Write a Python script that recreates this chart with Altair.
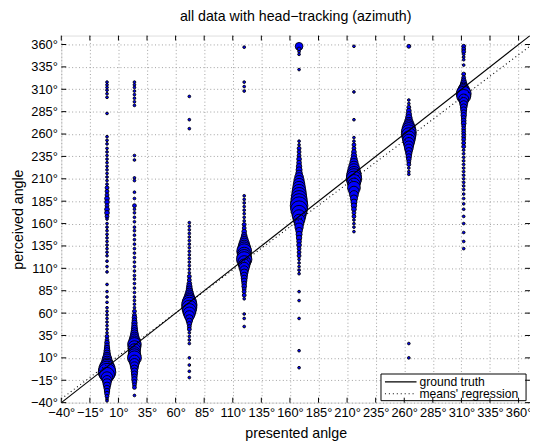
import altair as alt
import pandas as pd

# ---------------- data ----------------
presented = [0, 24, 72, 120, 168, 216, 264, 312]

# (perceived angle, number of responses)
resp_0 = [(318,1),(315,1),(312,1),(309,1),(305,1),(301,1),(283,1),
          (257,1),(253,1),(249,1),(244,1),(240,1),(236,1),(232,1),(228,1),(224,1),(220,1),(216,1),
          (212,1),(208,1),(204,1),(200,2),(196,2),(192,2),(188,3),(184,3),(180,2),(176,3),(172,3),
          (168,2),(165,1),(160,1),(156,1),(152,1),(148,1),(144,1),(140,1),(136,1),(132,1),(128,1),
          (124,1),(118,1),(112,1),(106,1),(92,1),(84,1),(78,1),(72,1),(66,1),(62,1),(58,1),(54,1),
          (50,1),(46,1),(42,1),(38,1),(34,2),(30,2),(27,3),(24,3),(21,4),(18,5),(15,6),(12,8),
          (9,12),(6,15),(3,20),(0,30),(-3,38),(-6,42),(-9,30),(-12,18),(-15,12),(-18,9),(-21,7),
          (-24,5),(-27,4),(-30,3),(-33,2),(-36,1),(-38,1)]
resp_24 = [(318,1),(315,1),(312,1),(308,1),(304,1),(300,1),(296,1),(292,1),
           (236,1),(231,1),(211,1),(208,1),(195,1),(188,1),(180,2),(176,1),(172,1),(167,1),
           (162,1),(156,1),(152,1),(147,1),(142,1),(137,1),(132,1),(127,1),(122,1),(117,1),
           (112,1),(107,1),(102,1),(98,1),(93,1),(88,1),(83,1),(78,1),(74,1),(70,1),(66,1),
           (62,2),(58,2),(55,3),(52,3),(49,4),(46,4),(43,5),(40,6),(37,8),(34,10),(31,14),
           (28,18),(25,25),(22,22),(19,20),(16,18),(13,22),(10,26),(7,16),(4,12),(1,9),(-2,7),
           (-5,6),(-8,5),(-11,4),(-14,4),(-17,3),(-20,2),(-23,2),(-32,1)]
resp_72 = [(302,1),(276,1),(266,1),
           (161,1),(157,1),(153,1),(149,1),(145,1),(141,1),(137,1),(133,1),(129,1),(125,1),
           (121,1),(117,1),(113,1),(109,1),(105,1),(101,2),(97,2),(93,3),(90,4),(87,5),(84,7),
           (81,10),(78,14),(75,20),(72,28),(69,32),(66,30),(63,25),(60,20),(57,14),(54,8),
           (51,5),(48,3),(45,2),(42,2),(38,1),(34,1),(30,1),(26,1),(10,1),(2,1),(-5,1),(-12,1)]
resp_120 = [(357,1),(318,1),(313,1),(308,1),
            (191,1),(187,1),(183,1),(179,1),(175,1),(171,1),(167,1),(163,1),(159,2),(155,2),
            (151,3),(147,4),(144,6),(141,9),(138,14),(135,18),(132,24),(129,30),(126,25),
            (123,28),(120,32),(117,22),(114,18),(111,14),(108,10),(105,8),(102,6),(99,5),
            (96,4),(93,3),(90,3),(87,2),(84,2),(80,2),(76,1),(59,1),(54,1),(45,1)]
resp_168 = [(358,8),(355,2),(352,1),(349,1),(332,1),
            (252,1),(248,1),(244,2),(240,2),(236,2),(232,3),(228,3),(224,4),(220,5),(216,6),
            (212,10),(208,14),(204,18),(200,22),(196,26),(192,30),(188,34),(184,38),(180,42),
            (176,38),(172,30),(168,24),(164,18),(160,12),(156,9),(152,6),(148,5),(144,4),
            (140,3),(136,3),(132,2),(128,2),(124,2),(120,1),(116,1),(112,1),(108,1),(104,1),
            (84,1),(74,1),(54,1),(18,1),(-1,1)]
resp_216 = [(358,1),(307,1),(276,1),
            (256,1),(252,1),(248,2),(244,2),(240,3),(236,4),(232,6),(228,9),(224,14),(220,20),
            (216,26),(213,30),(210,32),(207,26),(204,20),(200,22),(196,14),(192,10),(188,7),
            (184,5),(180,4),(176,3),(172,2),(168,2),(164,1),(160,1),(156,1),(151,1)]
resp_264 = [(358,2),
            (298,1),(294,1),(290,2),(286,3),(282,4),(278,6),(274,9),(271,14),(268,20),(265,26),
            (262,30),(259,28),(256,24),(253,20),(250,16),(247,12),(244,10),(241,7),(238,5),
            (235,4),(232,3),(229,2),(226,2),(222,1),(218,1),(215,1),(26,1),(10,1)]
resp_312 = [(358,2),(355,2),(352,2),(349,1),(346,1),(343,1),(337,1),(327,2),(323,2),(320,3),
            (317,5),(314,8),(311,14),(308,22),(305,30),(302,26),(299,14),(296,10),(293,8),
            (290,6),(287,5),(284,4),(281,4),(278,3),(275,3),(272,3),(269,2),(266,2),(263,2),
            (260,2),(257,2),(254,2),(250,2),(246,2),(242,1),(238,1),(234,1),(230,1),(226,1),
            (222,1),(218,1),(214,1),(210,1),(206,1),(202,1),(198,1),(193,1),(188,1),(182,1),
            (176,1),(168,1),(160,1),(150,1),(140,1),(132,1)]
responses = [resp_0, resp_24, resp_72, resp_120, resp_168, resp_216, resp_264, resp_312]

# means' regression (estimated from the dotted line)
reg_slope = 0.961
reg_intercept = 2.6
line_x = [-40, 370]

tick_values = [-40, -15, 10, 35, 60, 85, 110, 135, 160, 185, 210, 235, 260, 285, 310, 335, 360]
legend_labels = ["ground truth", "means' regression"]

# ---------------- tables ----------------
rows = []
for p, resp in zip(presented, responses):
    for y, n in resp:
        rows.append({"presented": p, "perceived": y, "n": n})
pts = pd.DataFrame(rows)

lines = pd.DataFrame({
    "x": line_x,
    "gt": line_x,
    "reg": [reg_slope * v + reg_intercept for v in line_x],
})
ticks = pd.DataFrame({"v": tick_values})
one = pd.DataFrame({"a": [0]})

# ---------------- chart ----------------
W, H = 475, 372
FONT = "Liberation Sans"
xs = alt.Scale(domain=[-40, 370], nice=False, zero=False)
ys = alt.Scale(domain=[-40, 370], nice=False, zero=False)

common_axis = dict(values=tick_values, format="d", labelExpr="datum.label + '°'",
                   grid=True, gridColor="#a0a0a0", gridDash=[1, 2.5], gridWidth=1,
                   domain=False, ticks=False, labelFlush=False, labelOverlap=False,
                   labelFontSize=13, labelFont=FONT, labelColor="black",
                   titleFontSize=14.4, titleFont=FONT, titleFontWeight="normal",
                   titleColor="black", labelPadding=4)
XAX = alt.Axis(**common_axis, titlePadding=7)
YAX = alt.Axis(**common_axis, titlePadding=5)
XT = "presented anlge"
YT = "perceived angle"


def X(field):
    return alt.X(field, type="quantitative", scale=xs, axis=XAX, title=XT)


def Y(field):
    return alt.Y(field, type="quantitative", scale=ys, axis=YAX, title=YT)


scatter = alt.Chart(pts).mark_circle(
    fill="#0000ff", stroke="black", strokeWidth=0.9, opacity=1
).encode(
    x=X("presented"),
    y=Y("perceived"),
    size=alt.Size("n:Q", scale=alt.Scale(domain=[0, 42], range=[0, 320]), legend=None),
)

gt_line = alt.Chart(lines).mark_line(color="black", strokeWidth=1.1, clip=True).encode(
    x=X("x"), y=Y("gt"))
reg_line = alt.Chart(lines).mark_line(color="black", strokeWidth=1.1, strokeDash=[1, 3],
                                      clip=True).encode(
    x=X("x"), y=Y("reg"))

# legend box (chrome)
leg_box = alt.Chart(one).mark_rect(fill="white", stroke="black", strokeWidth=1).encode(
    x=alt.value(324), x2=alt.value(471), y=alt.value(343), y2=alt.value(370))
leg_solid = alt.Chart(one).mark_rule(color="black", strokeWidth=1.1).encode(
    x=alt.value(328), x2=alt.value(360), y=alt.value(351))
leg_dot = alt.Chart(one).mark_rule(color="black", strokeWidth=1.1, strokeDash=[1, 3]).encode(
    x=alt.value(328), x2=alt.value(360), y=alt.value(363))
leg_t1 = alt.Chart(one).mark_text(align="left", baseline="middle", fontSize=12.3, font=FONT,
                                  color="black").encode(
    x=alt.value(363), y=alt.value(351), text=alt.value(legend_labels[0]))
leg_t2 = alt.Chart(one).mark_text(align="left", baseline="middle", fontSize=12.3, font=FONT,
                                  color="black").encode(
    x=alt.value(363), y=alt.value(363), text=alt.value(legend_labels[1]))

# inward ticks
tk = dict(color="black", strokeWidth=1)
t_bottom = alt.Chart(ticks).mark_rule(**tk).encode(
    x=X("v"), y=alt.value(H), y2=alt.value(H - 5))
t_top = alt.Chart(ticks).mark_rule(**tk).encode(
    x=X("v"), y=alt.value(0), y2=alt.value(5))
t_left = alt.Chart(ticks).mark_rule(**tk).encode(
    y=Y("v"), x=alt.value(0), x2=alt.value(5))
t_right = alt.Chart(ticks).mark_rule(**tk).encode(
    y=Y("v"), x=alt.value(W), x2=alt.value(W - 5))

chart = alt.layer(
    scatter, gt_line, reg_line, leg_box, leg_solid, leg_dot, leg_t1, leg_t2,
    t_bottom, t_top, t_left, t_right
).properties(
    width=W, height=H,
    title=alt.TitleParams("all data with head−tracking (azimuth)", fontSize=14.4, font=FONT,
                          fontWeight="normal", color="black", offset=11),
    autosize=alt.AutoSizeParams(type="none"),
    padding={"left": 54, "top": 25, "right": 0, "bottom": 39},
).configure_view(stroke="black", strokeWidth=1.2).configure(background="white")

chart.save("out.html", embed_options={"renderer": "svg", "actions": False})
